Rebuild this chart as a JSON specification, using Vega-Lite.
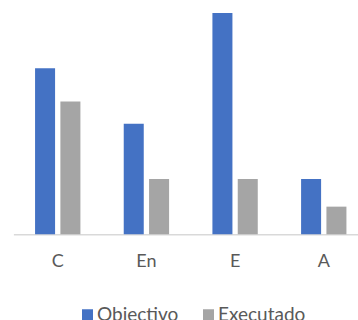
{
  "$schema": "https://vega.github.io/schema/vega-lite/v6.json",
  "autosize": "none",
  "width": 344.6,
  "height": 232.3,
  "padding": {"left": 13.4, "top": 2, "right": 0, "bottom": 85.7},
  "background": "white",
  "config": {"view": {"stroke": null}, "font": "Lato"},
  "data": {"values": [
    {"cat": "C", "serie": "Objectivo", "v": 6.0},
    {"cat": "C", "serie": "Executado", "v": 4.8},
    {"cat": "En", "serie": "Objectivo", "v": 4.0},
    {"cat": "En", "serie": "Executado", "v": 2.0},
    {"cat": "E", "serie": "Objectivo", "v": 8.0},
    {"cat": "E", "serie": "Executado", "v": 2.0},
    {"cat": "A", "serie": "Objectivo", "v": 2.0},
    {"cat": "A", "serie": "Executado", "v": 1.0}
  ]},
  "mark": {"type": "bar"},
  "encoding": {
    "x": {"field": "cat", "type": "nominal", "sort": ["C", "En", "E", "A"],
      "scale": {"range": [0, 354.7], "paddingInner": 0, "paddingOuter": 0},
      "axis": {"title": null, "ticks": false, "domainColor": "#D9D9D9", "domainWidth": 1.5,
        "labelColor": "#595959", "labelFontSize": 18, "labelPadding": 18, "labelAngle": 0, "labelFont": "Lato"}},
    "xOffset": {"field": "serie", "type": "nominal", "sort": ["Objectivo", "Executado"],
      "scale": {"paddingInner": 0.21, "paddingOuter": 0.855}},
    "y": {"field": "v", "type": "quantitative", "scale": {"domain": [0, 8.4], "nice": false}, "axis": null},
    "color": {"field": "serie", "type": "nominal",
      "scale": {"domain": ["Objectivo", "Executado"], "range": ["#4472C4", "#A5A5A5"]},
      "legend": {"title": null, "orient": "none", "direction": "horizontal", "legendX": 64.6, "legendY": 303, "padding": 0,
        "symbolType": "square", "symbolSize": 121, "symbolStrokeWidth": 0, "symbolOpacity": 1,
        "labelFontSize": 19, "labelColor": "#595959", "labelFont": "Lato", "labelOffset": 0, "columnPadding": 20}}
  }
}
